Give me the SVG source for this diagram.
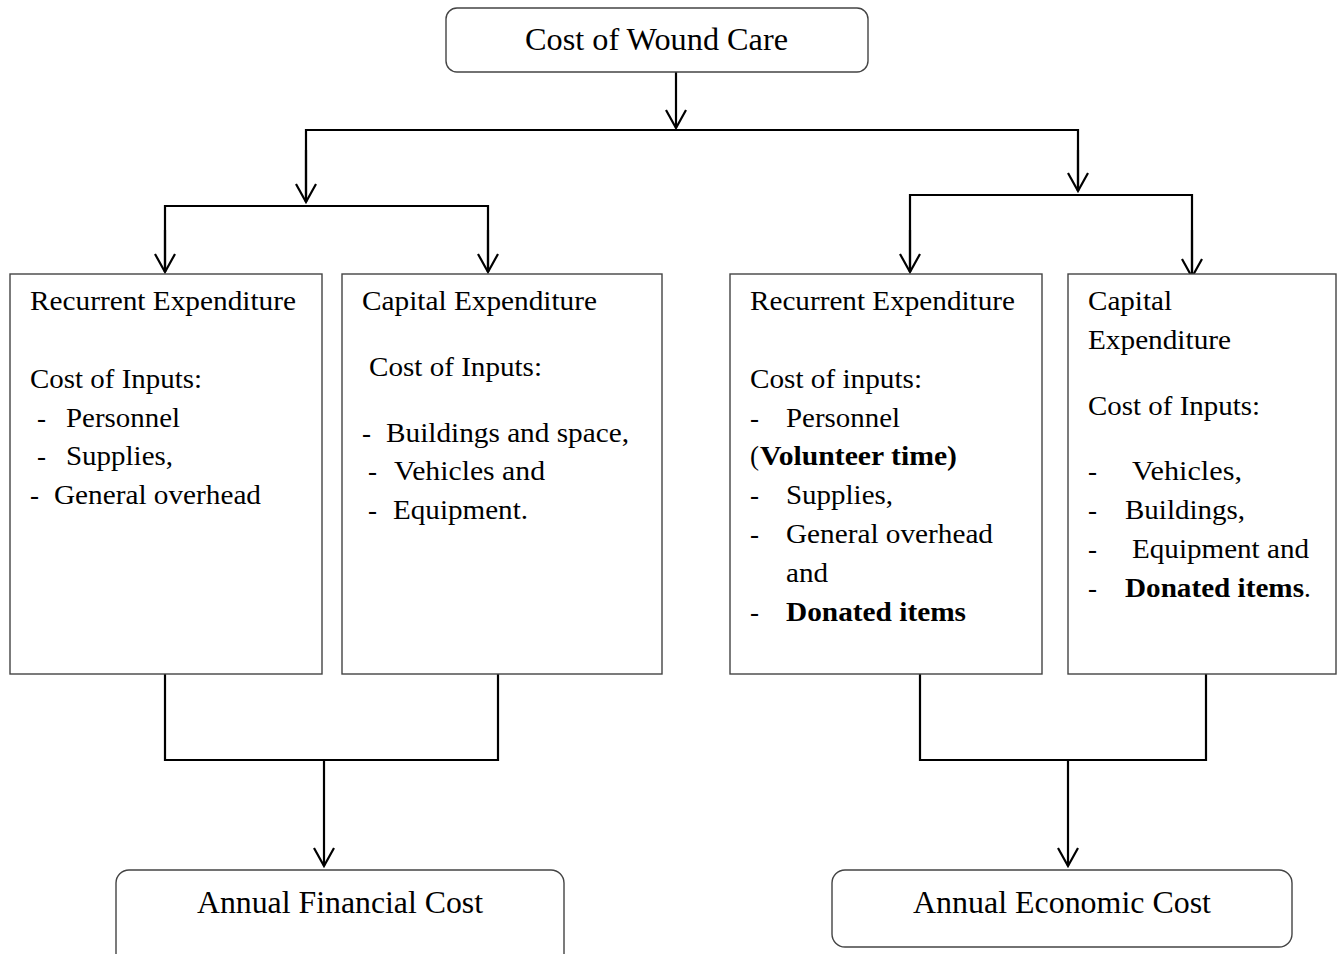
<svg xmlns="http://www.w3.org/2000/svg" width="1340" height="954" viewBox="0 0 1340 954">
<style>
.box{fill:#fff;stroke:#444;stroke-width:1.4}
.t{font-family:"Liberation Serif","Times New Roman",serif;font-size:27px;fill:#000}
.b{font-weight:bold}
.big{font-size:31px}
.c{fill:none;stroke:#000;stroke-width:2.2}
</style>
<defs>
<marker id="ah" viewBox="0 0 22 24" refX="20" refY="12" markerWidth="22" markerHeight="24" markerUnits="userSpaceOnUse" orient="auto">
<path d="M2,2 L20,12 L2,22" fill="none" stroke="#000" stroke-width="2.2"/>
</marker>
</defs>
<rect width="1340" height="954" fill="#fff"/>
<g id="connectors">
<line class="c" x1="676" y1="72" x2="676" y2="128" marker-end="url(#ah)"/>
<path class="c" d="M306,202 V130 H1078 V191"/>
<line class="c" x1="306" y1="150" x2="306" y2="202" marker-end="url(#ah)"/>
<line class="c" x1="1078" y1="150" x2="1078" y2="191" marker-end="url(#ah)"/>
<path class="c" d="M165,272 V206 H488 V272"/>
<line class="c" x1="165" y1="230" x2="165" y2="272" marker-end="url(#ah)"/>
<line class="c" x1="488" y1="230" x2="488" y2="272" marker-end="url(#ah)"/>
<path class="c" d="M910,272 V195 H1192 V277"/>
<line class="c" x1="910" y1="230" x2="910" y2="272" marker-end="url(#ah)"/>
<line class="c" x1="1192" y1="230" x2="1192" y2="277" marker-end="url(#ah)"/>
<path class="c" d="M165,674 V760 H498 V674"/>
<line class="c" x1="324" y1="760" x2="324" y2="866" marker-end="url(#ah)"/>
<path class="c" d="M920,674 V760 H1206 V674"/>
<line class="c" x1="1068" y1="760" x2="1068" y2="866" marker-end="url(#ah)"/>
</g>
<g id="top">
<rect class="box" x="446" y="8" width="422" height="64" rx="11"/>
<text class="t big" x="525" y="50" textLength="263" lengthAdjust="spacingAndGlyphs">Cost of Wound Care</text>
</g>
<g id="fin-recurrent">
<rect class="box" x="10" y="274" width="312" height="400"/>
<text class="t" x="30" y="310" textLength="266" lengthAdjust="spacingAndGlyphs">Recurrent Expenditure</text>
<text class="t" x="30" y="388" textLength="172" lengthAdjust="spacingAndGlyphs">Cost of Inputs:</text>
<text class="t" x="37" y="427">-</text>
<text class="t" x="66" y="427" textLength="114" lengthAdjust="spacingAndGlyphs">Personnel</text>
<text class="t" x="37" y="465">-</text>
<text class="t" x="66" y="465" textLength="107" lengthAdjust="spacingAndGlyphs">Supplies,</text>
<text class="t" x="30" y="504">-</text>
<text class="t" x="54" y="504" textLength="207" lengthAdjust="spacingAndGlyphs">General overhead</text>
</g>
<g id="fin-capital">
<rect class="box" x="342" y="274" width="320" height="400"/>
<text class="t" x="362" y="310" textLength="235" lengthAdjust="spacingAndGlyphs">Capital Expenditure</text>
<text class="t" x="369" y="376" textLength="173" lengthAdjust="spacingAndGlyphs">Cost of Inputs:</text>
<text class="t" x="362" y="442">-</text>
<text class="t" x="386" y="442" textLength="243" lengthAdjust="spacingAndGlyphs">Buildings and space,</text>
<text class="t" x="368" y="480">-</text>
<text class="t" x="394" y="480" textLength="151" lengthAdjust="spacingAndGlyphs">Vehicles and</text>
<text class="t" x="368" y="519">-</text>
<text class="t" x="393" y="519" textLength="135" lengthAdjust="spacingAndGlyphs">Equipment.</text>
</g>
<g id="eco-recurrent">
<rect class="box" x="730" y="274" width="312" height="400"/>
<text class="t" x="750" y="310" textLength="265" lengthAdjust="spacingAndGlyphs">Recurrent Expenditure</text>
<text class="t" x="750" y="388" textLength="172" lengthAdjust="spacingAndGlyphs">Cost of inputs:</text>
<text class="t" x="750" y="427">-</text>
<text class="t" x="786" y="427" textLength="114" lengthAdjust="spacingAndGlyphs">Personnel</text>
<text class="t" x="750" y="465">(</text>
<text class="t b" x="760" y="465" textLength="197" lengthAdjust="spacingAndGlyphs">Volunteer time)</text>
<text class="t" x="750" y="504">-</text>
<text class="t" x="786" y="504" textLength="107" lengthAdjust="spacingAndGlyphs">Supplies,</text>
<text class="t" x="750" y="543">-</text>
<text class="t" x="786" y="543" textLength="207" lengthAdjust="spacingAndGlyphs">General overhead</text>
<text class="t" x="786" y="582" textLength="42" lengthAdjust="spacingAndGlyphs">and</text>
<text class="t" x="750" y="621">-</text>
<text class="t b" x="786" y="621" textLength="180" lengthAdjust="spacingAndGlyphs">Donated items</text>
</g>
<g id="eco-capital">
<rect class="box" x="1068" y="274" width="268" height="400"/>
<text class="t" x="1088" y="310" textLength="84" lengthAdjust="spacingAndGlyphs">Capital</text>
<text class="t" x="1088" y="349" textLength="143" lengthAdjust="spacingAndGlyphs">Expenditure</text>
<text class="t" x="1088" y="415" textLength="172" lengthAdjust="spacingAndGlyphs">Cost of Inputs:</text>
<text class="t" x="1088" y="480">-</text>
<text class="t" x="1132" y="480" textLength="110" lengthAdjust="spacingAndGlyphs">Vehicles,</text>
<text class="t" x="1088" y="519">-</text>
<text class="t" x="1125" y="519" textLength="120" lengthAdjust="spacingAndGlyphs">Buildings,</text>
<text class="t" x="1088" y="558">-</text>
<text class="t" x="1132" y="558" textLength="177" lengthAdjust="spacingAndGlyphs">Equipment and</text>
<text class="t" x="1088" y="597">-</text>
<text class="t b" x="1125" y="597" textLength="179" lengthAdjust="spacingAndGlyphs">Donated items</text>
<text class="t" x="1304" y="597">.</text>
</g>
<g id="annual-financial">
<rect class="box" x="116" y="870" width="448" height="110" rx="13"/>
<text class="t big" x="197" y="913" textLength="286" lengthAdjust="spacingAndGlyphs">Annual Financial Cost</text>
</g>
<g id="annual-economic">
<rect class="box" x="832" y="870" width="460" height="77" rx="13"/>
<text class="t big" x="913" y="913" textLength="298" lengthAdjust="spacingAndGlyphs">Annual Economic Cost</text>
</g>
</svg>
